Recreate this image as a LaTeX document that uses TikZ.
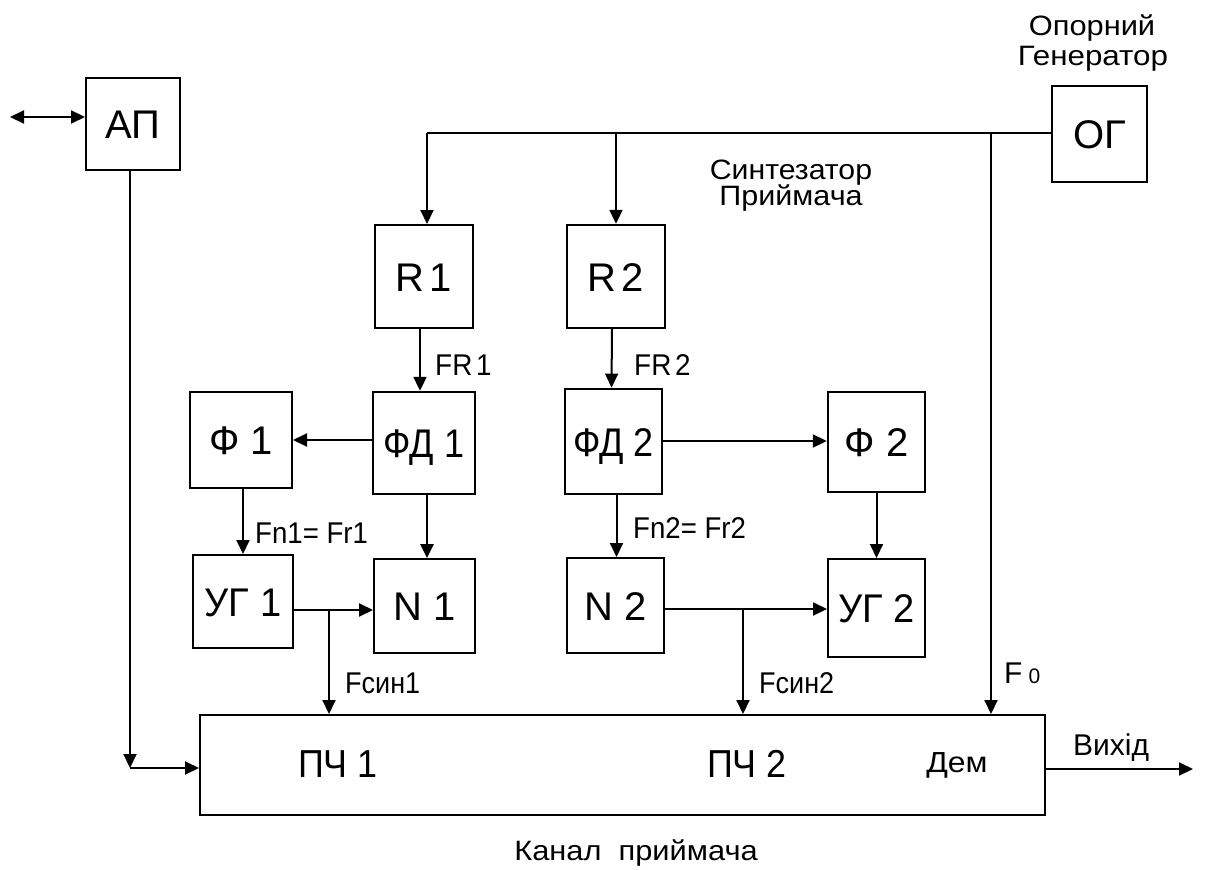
\documentclass[tikz,border=0pt]{standalone}
\usepackage{fontspec}
\usepackage{graphicx}
\setmainfont{Liberation Sans}
\usetikzlibrary{arrows.meta}
\newcommand{\sx}[2]{\scalebox{#1}[1]{#2}}
\tikzset{
  blk/.style={draw, line width=2pt, inner sep=0pt, text height=29pt, text depth=0pt, font=\fontsize{40}{42}\selectfont},
  lbl/.style={inner sep=0pt, font=\fontsize{30}{32}\selectfont},
  captxt/.style={inner sep=0pt, font=\fontsize{28}{30}\selectfont},
  conn/.style={line width=2pt},
  tip/.tip={Triangle[length=14pt,width=13pt]},
  arr/.style={conn, -tip},
}
\begin{document}
\begin{tikzpicture}[x=1pt,y=-1pt]
\useasboundingbox (0,0) rectangle (1205,870);
% blocks
\node[blk, minimum width=94pt, minimum height=92pt] (ap) at (133,124) {АП};
\node[blk, minimum width=95pt, minimum height=96pt] (og) at (1099.5,134) {ОГ};
\node[blk, minimum width=98pt, minimum height=103pt] (r1) at (424,276.5) {R\kern5pt1};
\node[blk, line width=2.4pt, minimum width=98pt, minimum height=103pt] (r2) at (616,276.5) {R\kern5pt2};
\node[blk, line width=2.4pt, minimum width=102pt, minimum height=102pt] (fd1) at (424,443) {\sx{0.9}{ФД 1}};
\node[blk, line width=2.8pt, minimum width=97pt, minimum height=105pt] (fd2) at (613.5,441.5) {\sx{0.9}{ФД 2}};
\node[blk, minimum width=102pt, minimum height=96pt] (f1) at (241,440) {Ф 1};
\node[blk, line width=2.4pt, minimum width=97pt, minimum height=100pt] (f2) at (876.5,442) {Ф 2};
\node[blk, minimum width=100pt, minimum height=93pt] (ug1) at (243,601.5) {\sx{0.95}{УГ 1}};
\node[blk, minimum width=101pt, minimum height=94pt] (n1) at (424.5,606) {N 1};
\node[blk, minimum width=97pt, minimum height=95pt] (n2) at (615.5,605.5) {N 2};
\node[blk, minimum width=97pt, minimum height=98pt] (ug2) at (876.5,608) {\sx{0.95}{УГ 2}};
\node[blk, minimum width=845pt, minimum height=100pt] (pch) at (622.5,765) {};
% texts inside ПЧ
\node[inner sep=0pt, anchor=base, font=\fontsize{39}{40}\selectfont] (t1) at (338,777) {\sx{0.92}{ПЧ 1}};
\node[inner sep=0pt, anchor=base, font=\fontsize{39}{40}\selectfont] (t2) at (747,777) {\sx{0.92}{ПЧ 2}};
\node[inner sep=0pt, anchor=base, font=\fontsize{29}{30}\selectfont] (dem) at (957,772) {\sx{1.1}{Дем}};
% captions
\node[captxt, anchor=base] (ogcap1) at (1092,35) {\sx{1.1}{Опорний}};
\node[captxt, anchor=base] (ogcap2) at (1093,65) {\sx{1.12}{Генератор}};
\node[captxt, anchor=base] (syn1) at (791,179) {\sx{1.08}{Синтезатор}};
\node[captxt, anchor=base] (syn2) at (791,205) {\sx{1.09}{Приймача}};
\node[captxt, anchor=base] (kan) at (636,860) {\sx{1.1}{Канал\ \ приймача}};
% coordinates
\coordinate (ant) at (10,117);
\coordinate (apc) at (130,768);
\coordinate (busL) at (427,133);
\coordinate (busM) at (616,133);
\coordinate (busR) at (991,133);
\coordinate (hf1) at (0,440);
\coordinate (hf2) at (0,441);
\coordinate (br1) at (329,610);
\coordinate (br2) at (743,609);
\coordinate (out) at (1193,769);
% connectors
\draw[conn, tip-tip] (ant) -- (ant -| ap.west);
\draw[arr] (ap.south -| apc) -- (apc);
\draw[arr] (apc) -- (apc -| pch.west);
\draw[conn] (og.west |- busR) -- (busL);
\draw[arr] (busL) -- (busL |- r1.north);
\draw[arr] (busM) -- (busM |- r2.north);
\draw[arr] (busR) -- (busR |- pch.north);
\draw[arr] ([xshift=-4pt]r1.south) -- ([xshift=-4pt]fd1.north);
\draw[arr] ([xshift=-4pt]r2.south) -- ([xshift=-2pt]fd2.north);
\draw[arr] (fd1.west |- hf1) -- (f1.east |- hf1);
\draw[arr] (fd2.east |- hf2) -- (f2.west |- hf2);
\draw[arr] ([xshift=2pt]f1.south) -- ([xshift=2pt]f1.south |- ug1.north);
\draw[arr, line width=2.6pt] ([xshift=3pt]fd1.south) -- ([xshift=3pt]fd1.south |- n1.north);
\draw[arr] ([xshift=3pt]fd2.south) -- ([xshift=3pt]fd2.south |- n2.north);
\draw[arr] (f2.south) -- (f2.south |- ug2.north);
\draw[arr] (ug1.east |- br1) -- (n1.west |- br1);
\draw[arr] (br1) -- (br1 |- pch.north);
\draw[arr] (n2.east |- br2) -- (ug2.west |- br2);
\draw[arr] (br2) -- (br2 |- pch.north);
\draw[arr] (pch.east |- out) -- (out);
% signal labels
\node[lbl, anchor=base west] (lfr1) at (435,375) {\sx{0.93}{FR\kern4pt1}};
\node[lbl, anchor=base west] (lfr2) at (634,375) {\sx{0.93}{FR\kern4pt2}};
\node[lbl, anchor=base west] (lfn1) at (255,543) {\sx{0.92}{Fn1= Fr1}};
\node[lbl, anchor=base west] (lfn2) at (633,538) {\sx{0.92}{Fn2= Fr2}};
\node[lbl, anchor=base west] (lfs1) at (345,693) {\sx{0.9}{Fсин1}};
\node[lbl, anchor=base west] (lfs2) at (759,693) {\sx{0.9}{Fсин2}};
\node[lbl, anchor=base west] (lf0) at (1004,683) {F\kern6pt{\fontsize{21}{22}\selectfont 0}};
\node[lbl, anchor=base west] (lout) at (1073,755) {Вихід};
\end{tikzpicture}
\end{document}
